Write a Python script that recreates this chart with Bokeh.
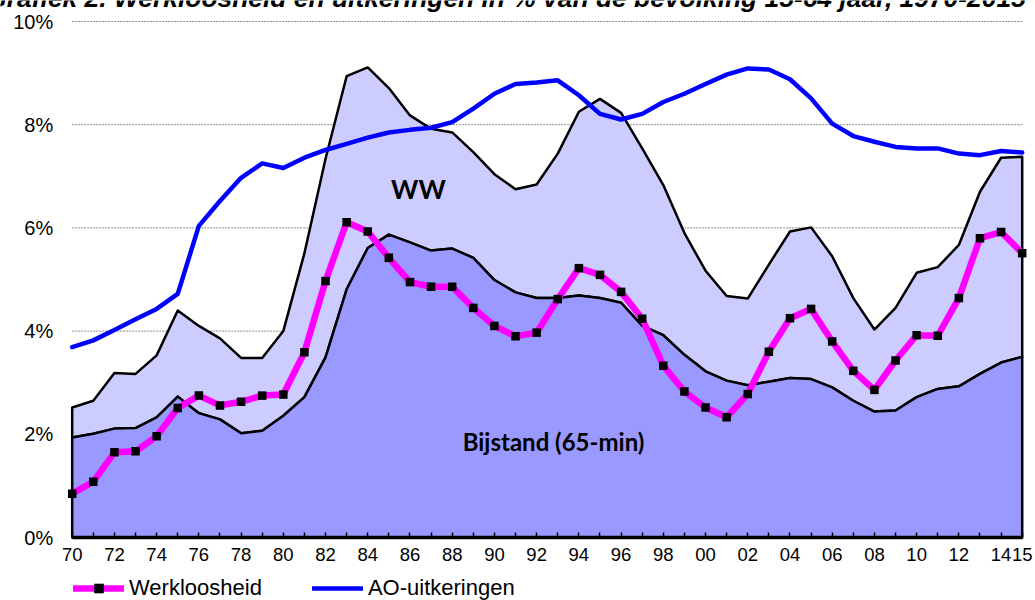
import numpy as np
from bokeh.plotting import figure
from bokeh.models import Range1d, FixedTicker, Legend, LegendItem, Label
from bokeh.embed import file_html
from bokeh.resources import INLINE

# ---------------- data (percent of population 15-64) ----------------
years = list(range(1970, 2016))

werkloosheid = [0.85, 1.08, 1.65, 1.67, 1.96, 2.51, 2.75, 2.56, 2.63, 2.75,
                2.77, 3.59, 4.97, 6.11, 5.93, 5.42, 4.95, 4.86, 4.86, 4.45,
                4.10, 3.90, 3.97, 4.62, 5.22, 5.09, 4.76, 4.24, 3.33, 2.83,
                2.52, 2.33, 2.78, 3.60, 4.25, 4.43, 3.80, 3.23, 2.86, 3.43,
                3.92, 3.91, 4.64, 5.80, 5.92, 5.51]

bijstand = [1.94, 2.01, 2.11, 2.12, 2.33, 2.73, 2.41, 2.29, 2.02, 2.07,
            2.36, 2.72, 3.49, 4.81, 5.61, 5.87, 5.72, 5.56, 5.60, 5.42,
            4.99, 4.75, 4.64, 4.64, 4.69, 4.64, 4.55, 4.10, 3.92, 3.54,
            3.22, 3.04, 2.95, 3.02, 3.09, 3.07, 2.91, 2.65, 2.44, 2.46,
            2.72, 2.88, 2.93, 3.17, 3.39, 3.50]

ww = [0.58, 0.64, 1.08, 1.05, 1.20, 1.67, 1.69, 1.57, 1.46, 1.41,
      1.64, 2.79, 3.85, 4.13, 3.50, 2.84, 2.46, 2.36, 2.25, 2.05,
      2.05, 2.00, 2.20, 2.80, 3.56, 3.86, 3.68, 3.44, 2.91, 2.36,
      1.95, 1.64, 1.68, 2.27, 2.84, 2.94, 2.54, 1.99, 1.59, 1.99,
      2.41, 2.36, 2.74, 3.53, 3.97, 3.88]

ao_uitkeringen = [3.69, 3.82, 4.02, 4.23, 4.43, 4.72, 6.04, 6.52, 6.97, 7.25,
                  7.16, 7.36, 7.51, 7.63, 7.75, 7.85, 7.90, 7.94, 8.05, 8.31,
                  8.60, 8.79, 8.82, 8.86, 8.57, 8.21, 8.10, 8.21, 8.44, 8.60,
                  8.79, 8.97, 9.09, 9.07, 8.88, 8.51, 8.02, 7.78, 7.67, 7.57,
                  7.54, 7.54, 7.44, 7.41, 7.49, 7.46]

labelled_years = list(range(1970, 2015, 2)) + [2015]
x_tick_labels = {y: (f"{y % 100:02d}" if y in labelled_years else "") for y in years}
y_ticks = [0, 2, 4, 6, 8, 10]
y_tick_labels = {0: "0%", 2: "2%", 4: "4%", 6: "6%", 8: "8%", 10: "10%"}

series_names = ["Werkloosheid", "AO-uitkeringen"]
title_text = "Grafiek 2. Werkloosheid en uitkeringen in % van de bevolking 15-64 jaar, 1970-2015"

MAGENTA = "#FF00FF"
BLUE = "#0000FF"

# ---------------- figure ----------------
# The frame covers the whole canvas; both axes sit at fixed data locations so
# that tick labels, legend and title all lie inside the frame.
PX_PER_PCT = 51.6
PX_PER_YEAR = 950 / 45
X_LO = years[0] - 71.7 / PX_PER_YEAR
X_HI = years[0] + (1035 - 71.7) / PX_PER_YEAR
Y_LO = -63 / PX_PER_PCT
Y_HI = 10 + 21 / PX_PER_PCT

p = figure(width=1035, height=600, output_backend="svg", toolbar_location=None,
           x_range=Range1d(X_LO, X_HI), y_range=Range1d(Y_LO, Y_HI),
           min_border_left=0, min_border_right=0, min_border_top=0,
           min_border_bottom=0)
p.outline_line_color = None
p.background_fill_color = "white"
p.border_fill_color = "white"

x = np.array(years, dtype=float)
b = np.array(bijstand)
tot = b + np.array(ww)

# dotted horizontal gridlines spanning the plotted years only
grid_levels = y_ticks[1:]
p.segment(x0=[years[0]] * len(grid_levels), y0=grid_levels,
          x1=[years[-1]] * len(grid_levels), y1=grid_levels,
          line_color="#8c8c8c", line_dash="2 1", line_width=1)

xs_poly = np.concatenate([x, x[::-1]])
p.patch(xs_poly, np.concatenate([tot, b[::-1]]), fill_color="#CCCCFF",
        line_color="black", line_width=2.5, line_join="round")
p.patch(xs_poly, np.concatenate([b, np.zeros_like(b)]), fill_color="#9999FF",
        line_color="black", line_width=2.5, line_join="round")

ao_line = p.line(x, ao_uitkeringen, line_color=BLUE, line_width=4.5,
                 line_join="round", line_cap="round")
wl_line = p.line(x, werkloosheid, line_color=MAGENTA, line_width=6.5,
                 line_join="round", line_cap="round")
wl_pts = p.scatter(x, werkloosheid, marker="square", size=8.5,
                   fill_color="black", line_color=None)

# ---------------- axes ----------------
p.xaxis.fixed_location = 0
p.xaxis.bounds = (years[0], years[-1])
p.xaxis.ticker = FixedTicker(ticks=years)
p.xaxis.major_label_overrides = x_tick_labels
p.xaxis.axis_line_width = 3.5
p.xaxis.axis_line_color = "black"
p.xaxis.major_tick_in = 5
p.xaxis.major_tick_out = 0
p.xaxis.major_tick_line_width = 1.5
p.xaxis.major_tick_line_color = "black"
p.xaxis.minor_tick_line_color = None
p.xaxis.major_label_text_font = "Liberation Sans"
p.xaxis.major_label_text_font_size = "18.5px"
p.xaxis.major_label_text_color = "black"
p.xaxis.major_label_standoff = 10

p.yaxis.fixed_location = years[0]
p.yaxis.bounds = (0, 10)
p.yaxis.ticker = FixedTicker(ticks=y_ticks)
p.yaxis.major_label_overrides = y_tick_labels
p.yaxis.axis_line_color = None
p.yaxis.major_tick_line_color = None
p.yaxis.major_tick_in = 0
p.yaxis.major_tick_out = 0
p.yaxis.minor_tick_line_color = None
p.yaxis.major_label_text_font = "Liberation Sans"
p.yaxis.major_label_text_font_size = "20px"
p.yaxis.major_label_text_color = "black"
p.yaxis.major_label_standoff = 19

p.xgrid.visible = False
p.ygrid.visible = False

# ---------------- annotations ----------------
p.add_layout(Label(x=1986.4, y=6.75, text="WW", text_font="Lato",
                   text_font_style="bold", text_font_size="26px",
                   text_align="center", text_baseline="middle", text_color="black"))
p.add_layout(Label(x=1992.8, y=1.87, text="Bijstand (65-min)", text_font="Lato",
                   text_font_style="bold", text_font_size="24px",
                   text_align="center", text_baseline="middle", text_color="black"))
# title: only its lower part shows at the top edge, as in the source image
p.add_layout(Label(x=1990.55, y=10 + 24 / PX_PER_PCT, text=title_text,
                   text_font="Liberation Sans", text_font_style="bold italic",
                   text_font_size="26.4px", text_align="center",
                   text_baseline="alphabetic", text_color="black"))

legend = Legend(items=[LegendItem(label=series_names[0], renderers=[wl_line, wl_pts]),
                       LegendItem(label=series_names[1], renderers=[ao_line])],
                location=(73, -1), orientation="horizontal",
                glyph_width=51, glyph_height=24, label_height=24,
                label_standoff=5, spacing=50,
                padding=0, margin=0, border_line_color=None,
                background_fill_alpha=0,
                label_text_font="Liberation Sans", label_text_font_size="22px",
                label_text_color="black", label_text_baseline="middle")
p.add_layout(legend, "center")

open("out.html", "w").write(file_html(p, INLINE))
